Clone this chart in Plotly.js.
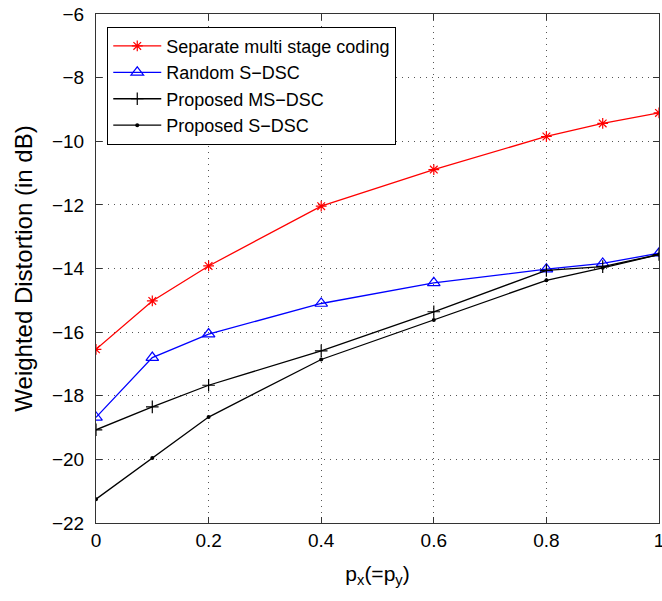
<!DOCTYPE html>
<html><head><meta charset="utf-8">
<script src="https://cdn.plot.ly/plotly-3.0.1.min.js"></script>
<style>body{margin:0;background:#fff}</style>
</head><body><div id="chart" style="width:662px;height:601px"></div>
<script>
const px = [0, 0.1, 0.2, 0.4, 0.6, 0.8, 0.9, 1];
const separateMSC = [-16.54, -15.02, -13.92, -12.04, -10.89, -9.85, -9.44, -9.11];
const randomSDSC = [-18.68, -16.80, -16.06, -15.10, -14.45, -14.02, -13.84, -13.52];
const proposedMSDSC = [-19.07, -18.35, -17.67, -16.59, -15.36, -14.06, -13.94, -13.56];
const proposedSDSC = [-21.25, -19.96, -18.67, -16.86, -15.62, -14.37, -13.98, -13.56];
const names = ['Separate multi stage coding', 'Random S\u2212DSC', 'Proposed MS\u2212DSC', 'Proposed S\u2212DSC'];
const xTicks = [0, 0.2, 0.4, 0.6, 0.8, 1];
const xTickText = ['0', '0.2', '0.4', '0.6', '0.8', '1'];
const yTicks = [-22, -20, -18, -16, -14, -12, -10, -8, -6];

const font = 'Liberation Sans, Arial, Helvetica, sans-serif';
const traces = [
  {x: px, y: separateMSC, name: names[0], mode: 'lines+markers',
   line: {color: '#ff0000', width: 1.3}, marker: {symbol: 'asterisk-open', size: 9, color: '#ff0000', line: {color: '#ff0000', width: 1.2}}},
  {x: px, y: randomSDSC, name: names[1], mode: 'lines+markers',
   line: {color: '#0000ff', width: 1.3}, marker: {symbol: 'triangle-up-open', size: 11, color: '#0000ff', line: {color: '#0000ff', width: 1.2}}},
  {x: px, y: proposedMSDSC, name: names[2], mode: 'lines+markers',
   line: {color: '#000000', width: 1.3}, marker: {symbol: 'cross-thin-open', size: 9, color: '#000000', line: {color: '#000000', width: 1.2}}},
  {x: px, y: proposedSDSC, name: names[3], mode: 'lines+markers',
   line: {color: '#000000', width: 1.3}, marker: {symbol: 'circle', size: 4, color: '#000000'}}
];
const axisCommon = {
  showline: true, linecolor: '#333', linewidth: 1, mirror: 'ticks',
  ticks: 'inside', ticklen: 6, tickcolor: '#333',
  showgrid: true, gridcolor: '#555', griddash: '1px,5px', gridwidth: 1,
  zeroline: false, tickfont: {family: font, size: 19, color: '#000'},
  ticklabeloverflow: 'allow'
};
const layout = {
  width: 662, height: 601,
  margin: {l: 96, r: 3, t: 14, b: 78},
  paper_bgcolor: '#fff', plot_bgcolor: '#fff',
  font: {family: font, color: '#000'},
  xaxis: Object.assign({}, axisCommon, {range: [0, 1], tickvals: xTicks, ticktext: xTickText,
    title: {text: 'p<sub>x</sub>(=p<sub>y</sub>)', font: {family: font, size: 21}, standoff: 16}}),
  yaxis: Object.assign({}, axisCommon, {range: [-22, -6], tickvals: yTicks, ticklabelstandoff: 7,
    title: {text: 'Weighted Distortion (in dB)', font: {family: font, size: 24}, standoff: 12}}),
  showlegend: true,
  legend: {x: 0.02, y: 0.975, xanchor: 'left', yanchor: 'top', bgcolor: '#fff', bordercolor: '#000', borderwidth: 1,
    font: {family: font, size: 18, color: '#000'}, tracegroupgap: 0, itemwidth: 48}
};
Plotly.newPlot('chart', traces, layout, {displayModeBar: false, staticPlot: true});
</script></body></html>
